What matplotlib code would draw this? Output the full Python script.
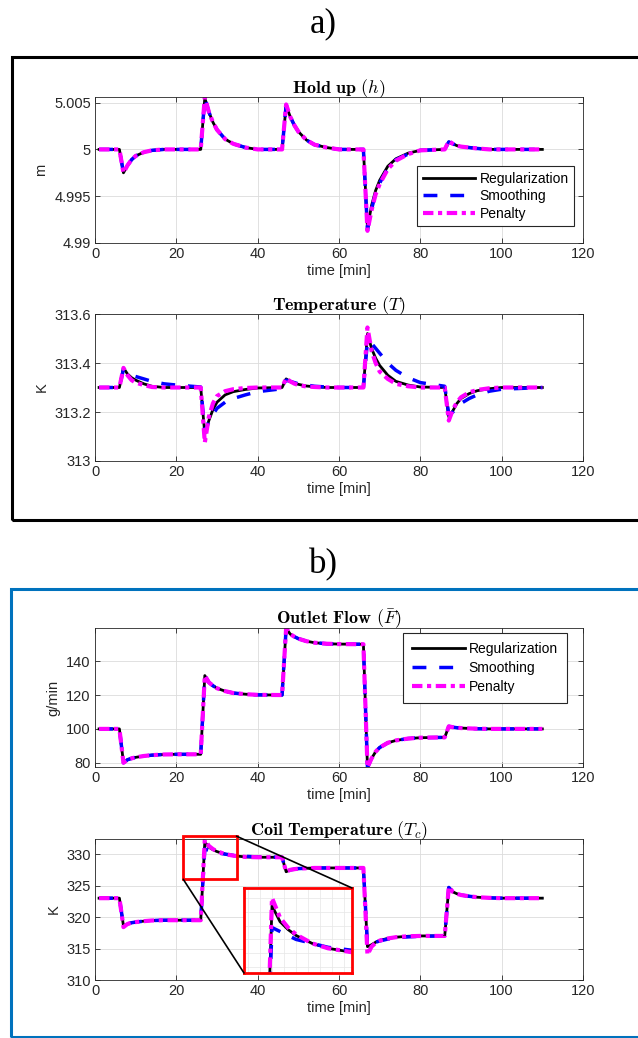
import matplotlib
matplotlib.use("Agg")
import matplotlib.pyplot as plt
from matplotlib.patches import Rectangle, ConnectionPatch

plt.rcParams["font.family"] = ["Liberation Sans", "DejaVu Sans"]
plt.rcParams["mathtext.fontset"] = "cm"

# time grid [min]
time = [1, 6, 7, 8, 9, 10, 12, 14, 17, 20,
        26, 27, 28, 29, 30, 32, 34, 37, 40,
        46, 47, 48, 49, 50, 52, 54, 57, 60,
        66, 67, 68, 69, 70, 72, 74, 77, 80,
        86, 87, 88, 89, 90, 92, 94, 97, 100, 110]

# hold up h [m]
hold_reg = [5.0, 5.0, 4.9975, 4.9983, 4.9989, 4.9993, 4.9997, 4.9999, 5.0, 5.0,
            5.0, 5.0055, 5.0040, 5.0029, 5.0021, 5.0011, 5.0006, 5.0002, 5.0,
            5.0, 5.0047, 5.0035, 5.0026, 5.0019, 5.0010, 5.0005, 5.0002, 5.0,
            5.0, 4.9916, 4.9940, 4.9956, 4.9967, 4.9982, 4.9990, 4.9996, 4.9999,
            5.0, 5.0008, 5.0006, 5.0004, 5.0003, 5.0002, 5.0001, 5.0, 5.0, 5.0]
hold_smooth = [5.0, 5.0, 4.9975, 4.9983, 4.9989, 4.9993, 4.9997, 4.9999, 5.0, 5.0,
               5.0, 5.0055, 5.0040, 5.0029, 5.0021, 5.0011, 5.0006, 5.0002, 5.0,
               5.0, 5.0047, 5.0035, 5.0026, 5.0019, 5.0010, 5.0005, 5.0002, 5.0,
               5.0, 4.9914, 4.9936, 4.9953, 4.9964, 4.9980, 4.9989, 4.9995, 4.9999,
               5.0, 5.0008, 5.0006, 5.0004, 5.0003, 5.0002, 5.0001, 5.0, 5.0, 5.0]
hold_pen = [5.0, 5.0, 4.9975, 4.9983, 4.9989, 4.9993, 4.9997, 4.9999, 5.0, 5.0,
            5.0, 5.0056, 5.0040, 5.0029, 5.0021, 5.0011, 5.0006, 5.0002, 5.0,
            5.0, 5.0048, 5.0035, 5.0026, 5.0019, 5.0010, 5.0005, 5.0002, 5.0,
            5.0, 4.9913, 4.9935, 4.9952, 4.9963, 4.9979, 4.9988, 4.9995, 4.9999,
            5.0, 5.0009, 5.0006, 5.0004, 5.0003, 5.0002, 5.0001, 5.0, 5.0, 5.0]

# temperature T [K]
temp_reg = [313.30, 313.30, 313.38, 313.355, 313.34, 313.33, 313.315, 313.305, 313.30, 313.30,
            313.30, 313.11, 313.165, 313.21, 313.24, 313.27, 313.283, 313.292, 313.298,
            313.30, 313.335, 313.325, 313.318, 313.313, 313.306, 313.303, 313.30, 313.30,
            313.30, 313.52, 313.46, 313.42, 313.39, 313.35, 313.325, 313.31, 313.302,
            313.30, 313.18, 313.205, 313.235, 313.255, 313.275, 313.287, 313.295, 313.30, 313.30]
temp_smooth = [313.30, 313.30, 313.375, 313.36, 313.35, 313.345, 313.335, 313.325, 313.315, 313.31,
               313.302, 313.12, 313.16, 313.19, 313.215, 313.24, 313.255, 313.27, 313.283,
               313.295, 313.33, 313.325, 313.32, 313.315, 313.31, 313.305, 313.302, 313.30,
               313.30, 313.49, 313.48, 313.46, 313.44, 313.40, 313.37, 313.34, 313.32,
               313.305, 313.19, 313.20, 313.22, 313.235, 313.255, 313.27, 313.285, 313.293, 313.30]
temp_pen = [313.30, 313.30, 313.38, 313.35, 313.33, 313.32, 313.31, 313.302, 313.30, 313.30,
            313.30, 313.075, 313.18, 313.235, 313.265, 313.285, 313.293, 313.298, 313.30,
            313.30, 313.338, 313.325, 313.316, 313.31, 313.304, 313.302, 313.30, 313.30,
            313.30, 313.545, 313.45, 313.40, 313.365, 313.335, 313.315, 313.305, 313.30,
            313.30, 313.165, 313.21, 313.24, 313.26, 313.28, 313.29, 313.297, 313.30, 313.30]

# outlet flow F [g/min]
flow_reg = [100, 100, 80, 81.8, 82.6, 83.2, 84.0, 84.5, 84.9, 85,
            85, 131.5, 127.5, 125.5, 124, 122.3, 121.2, 120.5, 120.1,
            120, 159.5, 156, 154.5, 153.3, 151.8, 150.9, 150.3, 150.1,
            150, 77.3, 82.5, 86.5, 89, 91.8, 93.2, 94.3, 94.8,
            95, 101.5, 101, 100.7, 100.5, 100.3, 100.1, 100, 100, 100]
flow_smooth = list(flow_reg)
flow_pen = list(flow_reg)

# coil temperature Tc [K]
coil_reg = [323, 323, 318.6, 318.9, 319.1, 319.2, 319.35, 319.45, 319.5, 319.5,
            319.5, 331.9, 331.1, 330.7, 330.4, 330.0, 329.75, 329.55, 329.5,
            329.5, 327.2, 327.5, 327.6, 327.7, 327.75, 327.8, 327.8, 327.8,
            327.8, 315.3, 315.6, 316.0, 316.3, 316.6, 316.8, 316.95, 317.0,
            317.0, 324.7, 324.0, 323.7, 323.5, 323.3, 323.15, 323.05, 323.0, 323.0]
coil_smooth = [323, 323, 318.6, 318.9, 319.1, 319.2, 319.35, 319.45, 319.5, 319.5,
               319.5, 330.8, 330.6, 330.4, 330.2, 330.0, 329.8, 329.65, 329.55,
               329.5, 327.2, 327.5, 327.6, 327.7, 327.75, 327.8, 327.8, 327.8,
               327.8, 315.6, 315.8, 316.0, 316.2, 316.5, 316.7, 316.85, 316.95,
               317.0, 324.7, 324.0, 323.7, 323.5, 323.3, 323.15, 323.05, 323.0, 323.0]
coil_pen = [323, 323, 318.4, 318.9, 319.1, 319.2, 319.35, 319.45, 319.5, 319.5,
            319.5, 332.3, 331.3, 330.8, 330.45, 330.0, 329.75, 329.55, 329.5,
            329.5, 327.2, 327.5, 327.6, 327.7, 327.75, 327.8, 327.8, 327.8,
            327.8, 314.0, 315.3, 315.9, 316.25, 316.6, 316.8, 316.95, 317.0,
            317.0, 324.8, 324.0, 323.7, 323.5, 323.3, 323.15, 323.05, 323.0, 323.0]

labels = ["Regularization", "Smoothing", "Penalty"]
x_ticks = [0, 20, 40, 60, 80, 100, 120]

W, H = 638, 1038
fig = plt.figure(figsize=(W / 100, H / 100), dpi=100)

TXT = "#262626"


def add_axes(left, top, right, bottom):
    return fig.add_axes([left / W, 1 - bottom / H, (right - left) / W, (bottom - top) / H])


def draw_series(ax, reg, smooth, pen):
    ax.plot(time, reg, color="black", lw=2.0, label=labels[0])
    ax.plot(time, smooth, color="#0000ff", lw=2.5, ls=(0, (4, 3.7)), label=labels[1])
    ax.plot(time, pen, color="#ff00ff", lw=3.0, ls=(0, (2.5, 1.1, 1.0, 1.1)), label=labels[2])


def style(ax, ylim, yticks, yticklabels, ylabel, title):
    ax.set_xlim(0, 120)
    ax.set_ylim(*ylim)
    ax.set_xticks(x_ticks)
    ax.set_yticks(yticks)
    ax.set_yticklabels(yticklabels)
    ax.grid(True, color="#dcdcdc", lw=0.6)
    ax.set_axisbelow(True)
    ax.tick_params(direction="in", top=True, right=True, length=3.5, width=0.6,
                   labelsize=10.5, colors=TXT, pad=3)
    for s in ax.spines.values():
        s.set_color(TXT)
        s.set_linewidth(0.6)
    ax.set_xlabel("time [min]", fontsize=10.5, color=TXT, labelpad=2)
    ax.set_ylabel(ylabel, fontsize=10.5, color=TXT, labelpad=4)
    ax.set_title(title, fontsize=13, pad=3)


def legend(ax, anchor, loc, pad, spacing):
    leg = ax.legend(loc=loc, bbox_to_anchor=anchor, borderaxespad=0, fontsize=10,
                    handlelength=3.8, fancybox=False, framealpha=1, edgecolor=TXT,
                    borderpad=pad, labelspacing=spacing, handletextpad=0.3)
    leg.get_frame().set_linewidth(0.8)


# frames and panel letters
fig.add_artist(Rectangle((12 / W, 1 - 520 / H), 1.0, (520 - 57) / H, transform=fig.transFigure,
                         fill=False, edgecolor="black", lw=2.2))
fig.add_artist(Rectangle((11 / W, 1 - 1037 / H), 1.0, (1037 - 589) / H, transform=fig.transFigure,
                         fill=False, edgecolor="#0072BD", lw=2.2))
fig.text(323 / W, 1 - 24 / H, "a)", ha="center", va="center", fontsize=25, family="Liberation Serif")
fig.text(323 / W, 1 - 565 / H, "b)", ha="center", va="center", fontsize=25, family="Liberation Serif")

# a) hold up
ax1 = add_axes(95, 97, 583, 243)
draw_series(ax1, hold_reg, hold_smooth, hold_pen)
style(ax1, (4.99, 5.0056), [4.99, 4.995, 5.0, 5.005], ["4.99", "4.995", "5", "5.005"],
      "m", r"$\mathbf{Hold\ up}\ (h)$")
legend(ax1, (0.982, 0.116), "lower right", 0.4, 0.25)

# a) temperature
ax2 = add_axes(95, 314, 583, 461)
draw_series(ax2, temp_reg, temp_smooth, temp_pen)
style(ax2, (313.0, 313.6), [313.0, 313.2, 313.4, 313.6], ["313", "313.2", "313.4", "313.6"],
      "K", r"$\mathbf{Temperature}\ (T)$")

# b) outlet flow
ax3 = add_axes(95, 628, 583, 767)
draw_series(ax3, flow_reg, flow_smooth, flow_pen)
style(ax3, (77.5, 159.6), [80, 100, 120, 140], ["80", "100", "120", "140"],
      "g/min", r"$\mathbf{Outlet\ Flow}\ (\bar{F})$")
legend(ax3, (0.967, 0.964), "upper right", 0.65, 0.35)

# b) coil temperature
ax4 = add_axes(95, 839, 583, 980)
draw_series(ax4, coil_reg, coil_smooth, coil_pen)
style(ax4, (310, 332.4), [310, 315, 320, 325, 330], ["310", "315", "320", "325", "330"],
      "K", r"$\mathbf{Coil\ Temperature}\ (T_c)$")

# zoom box and inset
zx0, zx1, zy0, zy1 = 21.7, 34.8, 326.0, 332.85
ax4.add_patch(Rectangle((zx0, zy0), zx1 - zx0, zy1 - zy0, fill=False, edgecolor="red",
                        lw=2.0, clip_on=False, zorder=5))

axi = add_axes(244, 888, 352, 973)
draw_series(axi, coil_reg, coil_smooth, coil_pen)
axi.set_xlim(23.5, 37)
axi.set_ylim(328.5, 332.8)
axi.set_xticks([24, 25.5, 27, 28.5, 30, 31.5, 33, 34.5, 36])
axi.set_yticks([328.8, 329.5, 330.2, 330.9, 331.6, 332.3])
axi.tick_params(length=0, labelbottom=False, labelleft=False)
axi.grid(True, color="#e6e6e6", lw=0.5)
for s in axi.spines.values():
    s.set_color("red")
    s.set_linewidth(2.0)

for (xa, ya), (xb, yb) in [((zx1, zy1), (1, 1)), ((zx0, zy0), (0, 0))]:
    con = ConnectionPatch(xyA=(xa, ya), coordsA=ax4.transData, xyB=(xb, yb),
                          coordsB=axi.transAxes, color="black", lw=1.2, zorder=4)
    fig.add_artist(con)

fig.savefig("out.png", dpi=100)
